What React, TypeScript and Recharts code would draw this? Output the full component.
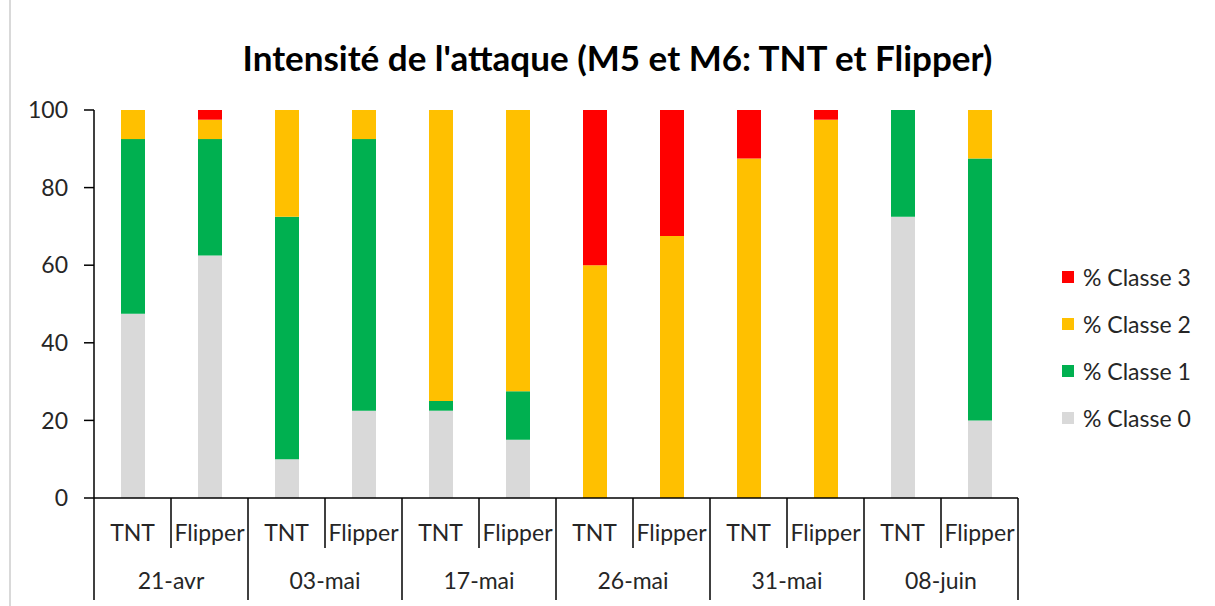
import { BarChart, Bar, XAxis, YAxis } from 'recharts';

const dates = ['21-avr', '03-mai', '17-mai', '26-mai', '31-mai', '08-juin'];
const products = ['TNT', 'Flipper'];
const yTicks = [0, 20, 40, 60, 80, 100];

const classe0 = [47.5, 62.5, 10, 22.5, 22.5, 15, 0, 0, 0, 0, 72.5, 20];
const classe1 = [45, 30, 62.5, 70, 2.5, 12.5, 0, 0, 0, 0, 27.5, 67.5];
const classe2 = [7.5, 5, 27.5, 7.5, 75, 72.5, 60, 67.5, 87.5, 97.5, 0, 12.5];
const classe3 = [0, 2.5, 0, 0, 0, 0, 40, 32.5, 12.5, 2.5, 0, 0];

const series = [
  { key: 'c0', name: '% Classe 0', color: '#D9D9D9' },
  { key: 'c1', name: '% Classe 1', color: '#00B050' },
  { key: 'c2', name: '% Classe 2', color: '#FFC000' },
  { key: 'c3', name: '% Classe 3', color: '#FF0000' },
];

const data = classe0.map((_, i) => ({
  date: dates[Math.floor(i / products.length)],
  product: products[i % products.length],
  c0: classe0[i],
  c1: classe1[i],
  c2: classe2[i],
  c3: classe3[i],
}));

const W = 1215;
const H = 606;
const LEFT = 94;
const RIGHT = 197;
const STEP = (W - LEFT - RIGHT) / data.length;
const FONT = 'Lato, "Open Sans", sans-serif';

function ProductTick(props: any) {
  const { x, y, payload, index } = props;
  const last = index % products.length === products.length - 1;
  return (
    <g>
      <text x={x} y={y + 43} textAnchor="middle" fontSize={23} fill="#262626" fontFamily={FONT}>
        {payload.value}
      </text>
      {!last && <line x1={x + STEP / 2} x2={x + STEP / 2} y1={y} y2={y + 50} stroke="#000" strokeWidth={1.5} />}
    </g>
  );
}

function DateTick(props: any) {
  const { x, y, payload, index } = props;
  const half = (STEP * products.length) / 2;
  return (
    <g>
      <text x={x} y={y + 41} textAnchor="middle" fontSize={23} fill="#262626" fontFamily={FONT}>
        {payload.value}
      </text>
      {index === 0 && <line x1={x - half} x2={x - half} y1={y - 50} y2={y + 52} stroke="#000" strokeWidth={1.5} />}
      <line x1={x + half} x2={x + half} y1={y - 50} y2={y + 52} stroke="#000" strokeWidth={1.5} />
    </g>
  );
}

export default function App() {
  return (
    <div style={{ position: 'absolute', left: 0, top: 0, width: W, height: H, background: '#fff', fontFamily: FONT }}>
      <div style={{ position: 'absolute', left: 9, top: 0, width: 2, height: H, background: '#d9d9d9' }} />
      <div
        style={{
          position: 'absolute',
          left: 0,
          top: 35,
          width: 1235,
          textAlign: 'center',
          fontSize: 35,
          lineHeight: '44px',
          fontWeight: 700,
          color: '#000',
        }}
      >
        Intensité de l'attaque (M5 et M6: TNT et Flipper)
      </div>
      <BarChart width={W} height={H} data={data} margin={{ top: 110, right: RIGHT, bottom: 0, left: 0 }} barSize={24}>
        <XAxis
          dataKey="product"
          height={50}
          tickLine={false}
          tickSize={0}
          tickMargin={0}
          axisLine={{ stroke: '#000', strokeWidth: 1.5 }}
          tick={<ProductTick />}
          interval={0}
        />
        <XAxis
          xAxisId="date"
          dataKey="date"
          allowDuplicatedCategory={false}
          height={58}
          tickLine={false}
          tickSize={0}
          tickMargin={0}
          axisLine={false}
          tick={<DateTick />}
          interval={0}
        />
        <YAxis
          width={LEFT}
          domain={[0, 100]}
          ticks={yTicks}
          tickSize={10}
          tickMargin={16}
          axisLine={{ stroke: '#000', strokeWidth: 1.5 }}
          tickLine={{ stroke: '#000', strokeWidth: 1.5 }}
          tick={{ fontSize: 23, fill: '#262626', fontFamily: FONT }}
        />
        {series.map((s) => (
          <Bar key={s.key} dataKey={s.key} name={s.name} stackId="a" fill={s.color} isAnimationActive={false} />
        ))}
      </BarChart>
      <div style={{ position: 'absolute', left: 1062, top: 253 }}>
        {[...series].reverse().map((s) => (
          <div key={s.key} style={{ display: 'flex', alignItems: 'center', height: 47, fontSize: 23, color: '#262626' }}>
            <span style={{ width: 12, height: 12, background: s.color, display: 'inline-block', marginRight: 9 }} />
            {s.name}
          </div>
        ))}
      </div>
    </div>
  );
}
